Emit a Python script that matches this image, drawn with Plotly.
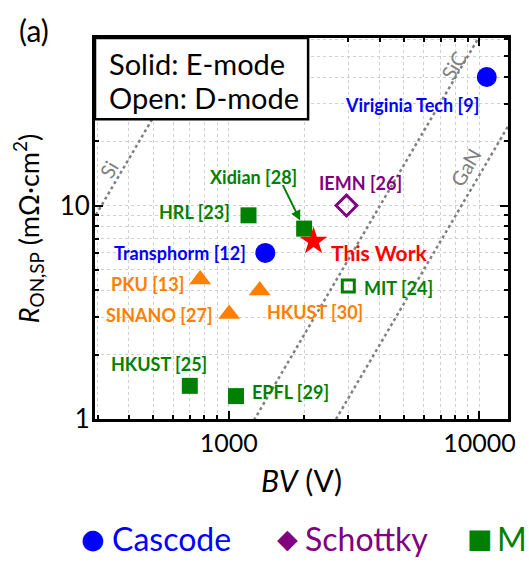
import numpy as np
import plotly.graph_objects as go

# ---- benchmark data: breakdown voltage BV (V) and R_ON,SP (mOhm*cm^2) ----
cascode_names = ["Transphorm [12]", "Viriginia Tech [9]"]
cascode_bv = [1400, 10700]
cascode_ron = [6.0, 40.0]

schottky_names = ["IEMN [26]"]
schottky_bv = [2950]
schottky_ron = [10.0]

mis_names = ["HRL [23]", "Xidian [28]", "MIT [24]", "HKUST [25]", "EPFL [29]"]
mis_bv = [1200, 2000, 3000, 700, 1070]
mis_ron = [9.0, 7.8, 4.2, 1.43, 1.28]
mis_open = [False, False, True, False, False]

pgan_names = ["PKU [13]", "SINANO [27]", "HKUST [30]"]
pgan_bv = [770, 1005, 1330]
pgan_ron = [4.5, 3.1, 4.0]

this_name = ["This Work"]
this_bv = [2180]
this_ron = [6.8]

# theoretical limits, R_ON,SP = k * BV^2
limit_names = ["Si", "SiC", "GaN"]
limit_k = [1.034e-4, 6.2e-7, 1.39e-7]
limit_bv_span = [250, 15000]

# axis ticks
x_major = [1000, 10000]
x_minor = [300, 400, 500, 600, 700, 800, 900, 2000, 3000, 4000, 5000, 6000, 7000, 8000, 9000]
y_major = [1, 10]
y_minor = [2, 3, 4, 5, 6, 7, 8, 9, 20, 30, 40, 50, 60]

BLUE = "#0000FF"
PURPLE = "#800080"
GREEN = "#008000"
ORANGE = "#FF8000"
RED = "#FF0000"
GREY = "#808080"
FONT = "Lato"

fig = go.Figure()

# limit lines (drawn first, under the markers)
for name, k in zip(limit_names, limit_k):
    bv = np.array(limit_bv_span, dtype=float)
    fig.add_trace(go.Scatter(
        x=bv, y=k * bv ** 2, mode="lines", name=name, showlegend=False,
        line=dict(color=GREY, width=2.5, dash="dot"), hoverinfo="skip"))

fig.add_trace(go.Scatter(
    x=cascode_bv, y=cascode_ron, mode="markers", name="Cascode",
    marker=dict(symbol="circle", size=20, color=BLUE, opacity=1)))

fig.add_trace(go.Scatter(
    x=schottky_bv, y=schottky_ron, mode="markers", name="Schottky",
    marker=dict(symbol="diamond-open", size=16, color=PURPLE, opacity=1,
                line=dict(width=3, color=PURPLE))))

fig.add_trace(go.Scatter(
    x=mis_bv, y=mis_ron, mode="markers", name="MIS",
    marker=dict(symbol=["square-open" if o else "square" for o in mis_open],
                size=[12 if o else 16 for o in mis_open], color=GREEN, opacity=1,
                line=dict(width=[3 if o else 0 for o in mis_open], color=GREEN))))

fig.add_trace(go.Scatter(
    x=pgan_bv, y=pgan_ron, mode="markers", name="p-GaN",
    marker=dict(symbol="triangle-up", size=19, color=ORANGE, opacity=1)))

fig.add_trace(go.Scatter(
    x=this_bv, y=this_ron, mode="markers", name="This Work",
    marker=dict(symbol="star", size=21, color=RED, opacity=1)))

# point labels: (pixel shift x, pixel shift y) from the marker
label_shift = {
    "Transphorm [12]": (-85, 0), "Viriginia Tech [9]": (-75, -28),
    "IEMN [26]": (14, 23),
    "HRL [23]": (-54, 3), "Xidian [28]": (-51, 52), "MIT [24]": (50, -2),
    "HKUST [25]": (-31, 22), "EPFL [29]": (54, 4),
    "PKU [13]": (-53, -4), "SINANO [27]": (-70, -1), "HKUST [30]": (55, -22),
    "This Work": (65, -11),
}

annotations = []


def add_labels(names, xs, ys, color, size=18):
    for n, bx, ry in zip(names, xs, ys):
        dx, dy = label_shift[n]
        annotations.append(dict(
            x=np.log10(bx), y=np.log10(ry), xref="x", yref="y", text="<b>%s</b>" % n,
            showarrow=False, xshift=dx, yshift=dy, xanchor="center", yanchor="middle",
            font=dict(family=FONT, size=size, color=color)))


add_labels(cascode_names, cascode_bv, cascode_ron, BLUE)
add_labels(schottky_names, schottky_bv, schottky_ron, PURPLE)
add_labels(mis_names, mis_bv, mis_ron, GREEN)
add_labels(pgan_names, pgan_bv, pgan_ron, ORANGE)
add_labels(this_name, this_bv, this_ron, RED, size=21)

# arrow from the Xidian label to its marker
xi = mis_names.index("Xidian [28]")
annotations.append(dict(
    x=np.log10(mis_bv[xi]), y=np.log10(mis_ron[xi]), xref="x", yref="y", text="",
    showarrow=True, ax=-22, ay=-45, arrowhead=2, arrowsize=1, arrowwidth=2,
    arrowcolor=GREEN, standoff=9))

# limit line labels (BV, R position of the text)
limit_label_pos = {"Si": (333, 14.8), "SiC": (7900, 45.5), "GaN": (8810, 15.1)}
for name in limit_names:
    bx, ry = limit_label_pos[name]
    annotations.append(dict(
        x=np.log10(bx), y=np.log10(ry), xref="x", yref="y", text=name, showarrow=False,
        textangle=-60, font=dict(family=FONT, size=20, color=GREY)))

# E-mode / D-mode key
annotations.append(dict(x=0.029, y=0.934, xref="paper", yref="paper", text="Solid: E-mode",
                        showarrow=False, xanchor="left", yanchor="middle",
                        font=dict(family=FONT, size=29, color="black")))
annotations.append(dict(x=0.029, y=0.843, xref="paper", yref="paper", text="Open: D-mode",
                        showarrow=False, xanchor="left", yanchor="middle",
                        font=dict(family=FONT, size=29, color="black")))

# panel tag
annotations.append(dict(x=-0.19, y=1.02, xref="paper", yref="paper", text="(a)",
                        showarrow=False, xanchor="left", yanchor="middle",
                        font=dict(family=FONT, size=30, color="black")))

# category key under the chart: glyph centre x and text left x (pixels)
key_items = [("●", "Cascode", BLUE, 93, 110), ("◆", "Schottky", PURPLE, 287, 303),
             ("■", "MIS", GREEN, 480, 495), ("▲", "p-GaN", ORANGE, 620, 636)]
for glyph, text, color, gx, tx in key_items:
    annotations.append(dict(
        x=(gx - 95) / 413, y=-0.313, xref="paper", yref="paper", text=glyph,
        showarrow=False, xanchor="center", yanchor="middle",
        font=dict(family="DejaVu Sans", size=27, color=color)))
    annotations.append(dict(
        x=(tx - 95) / 413, y=-0.313, xref="paper", yref="paper", text=text,
        showarrow=False, xanchor="left", yanchor="middle",
        font=dict(family=FONT, size=32, color=color)))

grid = dict(showgrid=True, gridcolor="#d0d0d0", gridwidth=1, griddash="dot")

fig.update_layout(
    width=529, height=563,
    margin=dict(l=95, r=21, t=38, b=144),
    paper_bgcolor="white", plot_bgcolor="white",
    showlegend=False,
    font=dict(family=FONT, size=25, color="black"),
    annotations=annotations,
    shapes=[dict(type="rect", xref="paper", yref="paper", x0=0, x1=0.516, y0=0.787, y1=1,
                 fillcolor="white", line=dict(color="black", width=2.5), layer="above")],
    xaxis=dict(
        type="log", range=[2.467, 4.114],
        tickmode="array", tickvals=x_major, ticktext=[str(v) for v in x_major],
        ticks="inside", ticklen=8, tickwidth=2, tickcolor="black",
        showline=True, linewidth=3, linecolor="black", mirror="allticks",
        tickfont=dict(family=FONT, size=25),
        title=dict(text="<i>BV</i> (V)", font=dict(family=FONT, size=30), standoff=15),
        minor=dict(tickmode="array", tickvals=x_minor, ticks="inside", ticklen=4,
                   tickwidth=2, tickcolor="black", **grid),
        zeroline=False, **grid),
    yaxis=dict(
        type="log", range=[0, 1.785],
        tickmode="array", tickvals=y_major, ticktext=[str(v) for v in y_major],
        ticks="inside", ticklen=8, tickwidth=2, tickcolor="black",
        showline=True, linewidth=3, linecolor="black", mirror="allticks",
        tickfont=dict(family=FONT, size=26), ticklabelstandoff=-3,
        title=dict(text="<i>R</i><sub>ON,SP</sub> (mΩ·cm<sup>2</sup>)",
                   font=dict(family=FONT, size=27), standoff=13),
        minor=dict(tickmode="array", tickvals=y_minor, ticks="inside", ticklen=4,
                   tickwidth=2, tickcolor="black", **grid),
        zeroline=False, **grid),
)

fig.write_html("out.html")
